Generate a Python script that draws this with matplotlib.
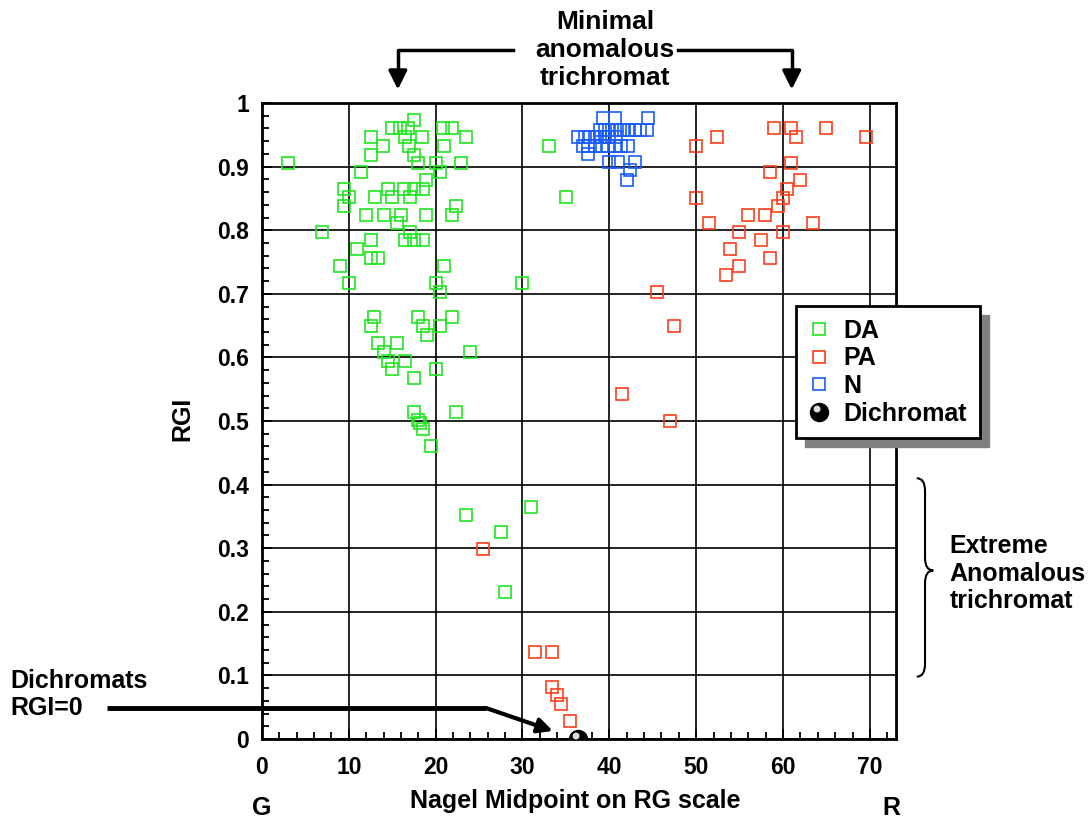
import matplotlib
matplotlib.use('Agg')
import matplotlib.pyplot as plt
from matplotlib.lines import Line2D
from matplotlib.patches import Rectangle, PathPatch
from matplotlib.path import Path
from matplotlib.markers import MarkerStyle
from matplotlib.transforms import Affine2D
from matplotlib.legend_handler import HandlerTuple
from matplotlib.ticker import MultipleLocator, FormatStrFormatter

# DA (deuteranomalous) - Nagel midpoint / RGI
da_x = [17.5, 15.0, 15.9, 16.8, 20.9, 21.9, 12.5, 16.5, 18.4, 23.5, 13.9, 16.9, 21.0,
        12.5, 17.5, 3.0, 18.0, 20.0, 22.9, 11.4, 20.5, 18.9, 9.5, 14.5, 16.4, 17.5,
        18.5, 10.0, 13.0, 15.0, 17.0, 9.5, 22.4, 12.0, 14.0, 16.0, 18.9, 21.9, 15.5,
        6.9, 17.0, 12.5, 16.5, 17.5, 18.5, 11.0, 12.5, 13.4, 9.0, 21.0, 10.0, 20.0,
        30.0, 20.5, 33.0, 35.0,
        12.9, 18.0, 21.9, 12.5, 18.5, 20.5, 19.0, 13.4, 15.5, 23.9, 14.0, 14.5, 16.5,
        15.0, 20.0, 17.5, 17.5, 22.4, 18.0, 18.2, 18.5, 19.5,
        23.5, 27.5, 31.0, 28.0]
da_y = [0.973, 0.960, 0.960, 0.960, 0.960, 0.960, 0.946, 0.946, 0.946, 0.946, 0.932, 0.932, 0.932,
        0.919, 0.919, 0.906, 0.906, 0.906, 0.906, 0.892, 0.892, 0.879, 0.865, 0.865, 0.865, 0.865,
        0.865, 0.852, 0.852, 0.852, 0.852, 0.838, 0.838, 0.824, 0.824, 0.824, 0.824, 0.824, 0.811,
        0.797, 0.797, 0.784, 0.784, 0.784, 0.784, 0.770, 0.757, 0.757, 0.743, 0.743, 0.717, 0.717,
        0.717, 0.703, 0.932, 0.852,
        0.663, 0.663, 0.663, 0.649, 0.649, 0.649, 0.636, 0.623, 0.623, 0.609, 0.609, 0.595, 0.595,
        0.582, 0.582, 0.568, 0.514, 0.514, 0.501, 0.497, 0.487, 0.460,
        0.352, 0.325, 0.365, 0.231]

# PA (protanomalous)
pa_x = [58.95, 60.95, 65.0, 61.45, 52.4, 69.5, 50.0, 60.95, 58.45, 61.95, 60.45, 50.0,
        59.95, 59.45, 55.95, 57.95, 51.45, 63.45, 54.95, 59.95, 57.45, 53.95, 58.45, 54.95,
        53.45, 45.45, 47.5, 41.5, 46.95, 25.5, 31.45, 33.45, 33.45, 33.95, 34.45, 35.45]
pa_y = [0.960, 0.960, 0.960, 0.946, 0.946, 0.946, 0.932, 0.906, 0.892, 0.879, 0.865, 0.851,
        0.851, 0.838, 0.824, 0.824, 0.811, 0.811, 0.797, 0.797, 0.784, 0.770, 0.757, 0.743,
        0.730, 0.703, 0.649, 0.542, 0.500, 0.298, 0.136, 0.136, 0.082, 0.069, 0.055, 0.028]

# N (normal)
n_x = [39.3, 40.6, 44.5, 44.3,
       38.9, 39.5, 40.0, 40.6, 41.2, 41.7, 42.3, 42.9, 43.5,
       36.4, 37.2, 37.7, 38.3, 38.9, 39.5, 40.0, 40.8,
       37.0, 37.6, 38.3, 39.1, 39.8, 40.6, 41.4, 42.2,
       37.6, 40.0, 41.0, 42.9, 42.35, 42.0]
n_y = [0.976, 0.976, 0.976, 0.958,
       0.958, 0.958, 0.958, 0.958, 0.958, 0.958, 0.958, 0.958, 0.958,
       0.947, 0.947, 0.947, 0.947, 0.947, 0.947, 0.947, 0.947,
       0.933, 0.933, 0.933, 0.933, 0.933, 0.933, 0.933, 0.933,
       0.920, 0.907, 0.907, 0.907, 0.894, 0.879]

# Dichromat
dich_x = [36.4]
dich_y = [0.0]

x_ticks = [0, 10, 20, 30, 40, 50, 60, 70]
y_ticks = [0, 0.1, 0.2, 0.3, 0.4, 0.5, 0.6, 0.7, 0.8, 0.9, 1.0]

GREEN = '#1ee61e'
RED = '#ff3d1a'
BLUE = '#1a5cff'

plt.rcParams['font.family'] = ['Liberation Sans', 'DejaVu Sans']
plt.rcParams['font.weight'] = 'bold'

fig = plt.figure(figsize=(10.91, 8.19), dpi=100)
ax = fig.add_axes([0.2401, 0.0977, 0.5811, 0.7765])

sq = dict(marker='s', markersize=9.2, markerfacecolor='none', markeredgewidth=1.2,
          linestyle='none')
ax.plot(da_x, da_y, markeredgecolor=GREEN, zorder=3, **sq)
ax.plot(pa_x, pa_y, markeredgecolor=RED, zorder=3, **sq)
ax.plot(n_x, n_y, markeredgecolor=BLUE, zorder=3, **sq)

# black ball with a light glint
ball = dict(marker='o', markersize=13, color='black', linestyle='none')
glint = dict(marker=MarkerStyle('o', transform=Affine2D().translate(-0.35, 0.5)),
             markersize=5, color='#dddddd', markeredgewidth=0, linestyle='none')
ax.plot(dich_x, dich_y, zorder=4, **ball)
ax.plot(dich_x, dich_y, zorder=4, **glint)

ax.set_xlim(0, 73)
ax.set_ylim(0, 1)
ax.set_xticks(x_ticks)
ax.set_yticks(y_ticks)
ax.xaxis.set_minor_locator(MultipleLocator(2))
ax.yaxis.set_minor_locator(MultipleLocator(0.02))
ax.yaxis.set_major_formatter(FormatStrFormatter('%g'))
ax.tick_params(which='both', direction='in', top=False, right=False, width=1.3,
               labelsize=16.5)
ax.tick_params(axis='x', which='major', pad=12)
ax.tick_params(axis='y', which='major', pad=9.5)
ax.tick_params(which='major', length=7)
ax.tick_params(which='minor', length=5)
ax.grid(True, which='major', color='black', linewidth=1.2)
for s in ax.spines.values():
    s.set_linewidth(2)

ax.set_xlabel('Nagel Midpoint on RG scale', fontsize=18, fontweight='bold')
ax.xaxis.set_label_coords(0.494, -0.078)
ax.set_ylabel('RGI', fontsize=18, fontweight='bold')
ax.yaxis.set_label_coords(-0.107, 0.504)

ax.text(0, -0.108, 'G', fontsize=18, ha='center', va='center')
ax.text(72.5, -0.108, 'R', fontsize=18, ha='center', va='center')

# top annotation
ax.text(39.5, 1.083, 'Minimal\nanomalous\ntrichromat', fontsize=19, ha='center',
        va='center', linespacing=1.2)
ax.plot([28.9, 15.65, 15.65], [1.083, 1.083, 1.04], color='black', lw=2.5, clip_on=False)
ax.plot([47.9, 61.0, 61.0], [1.083, 1.083, 1.04], color='black', lw=2.5, clip_on=False)
for xa in (15.65, 61.0):
    ax.annotate('', xy=(xa, 1.017), xytext=(xa, 1.05), annotation_clip=False,
                arrowprops=dict(arrowstyle='-|>', color='black', lw=2.5, mutation_scale=28))

# dichromat arrow
ax.text(-29.0, 0.07, 'Dichromats\nRGI=0', fontsize=18, ha='left', va='center',
        linespacing=1.18)
ax.plot([-17.8, 25.8], [0.0487, 0.0487], color='black', lw=3.5, clip_on=False,
        solid_capstyle='butt')
ax.annotate('', xy=(33.5, 0.0126), xytext=(25.8, 0.0487), annotation_clip=False,
            arrowprops=dict(arrowstyle='-|>', color='black', lw=3, mutation_scale=22,
                            shrinkA=0, shrinkB=0))

# extreme anomalous brace
x0, xm, xt = 75.4, 76.35, 77.3
yt, yc, yb, r = 0.41, 0.265, 0.098, 0.02
brace = Path([(x0, yt), (xm, yt), (xm, yt - r), (xm, yc + r), (xm, yc), (xt, yc),
              (xm, yc), (xm, yc - r), (xm, yb + r), (xm, yb), (x0, yb)],
             [Path.MOVETO, Path.CURVE3, Path.CURVE3, Path.LINETO, Path.CURVE3, Path.CURVE3,
              Path.CURVE3, Path.CURVE3, Path.LINETO, Path.CURVE3, Path.CURVE3])
ax.add_patch(PathPatch(brace, fill=False, lw=1.5, color='black', clip_on=False))
ax.text(79.2, 0.26, 'Extreme\nAnomalous\ntrichromat', fontsize=18, ha='left',
        va='center', linespacing=1.18)

# legend
h_da = Line2D([], [], markeredgecolor=GREEN, **sq)
h_pa = Line2D([], [], markeredgecolor=RED, **sq)
h_n = Line2D([], [], markeredgecolor=BLUE, **sq)
h_ball = (Line2D([], [], **ball), Line2D([], [], **glint))
leg = ax.legend([h_da, h_pa, h_n, h_ball], ['DA', 'PA', 'N', 'Dichromat'],
                handler_map={tuple: HandlerTuple(ndivide=1)},
                loc='upper left', bbox_to_anchor=(796 / 1091, 1 - 306 / 819),
                bbox_transform=fig.transFigure, borderaxespad=0, fontsize=18,
                fancybox=False, framealpha=1, edgecolor='black', handlelength=0.8,
                handletextpad=0.6, labelspacing=0.15, borderpad=0.5)
leg.get_frame().set_linewidth(2)

fig.canvas.draw()
bb = leg.get_window_extent()
W, H = fig.get_size_inches() * fig.dpi
ax.add_patch(Rectangle(((bb.x0 + 9) / W, (bb.y0 - 9) / H), bb.width / W, bb.height / H,
                       transform=fig.transFigure, color='#808080', zorder=4.9, clip_on=False))

fig.savefig('out.png', dpi=100)
plt.close()
